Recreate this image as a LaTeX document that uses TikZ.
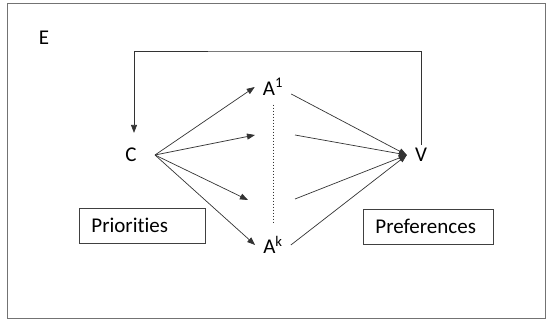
\documentclass[tikz,border=0pt]{standalone}
\usepackage{fontspec}
\setmainfont{Carlito}[Ligatures=NoCommon]
\usetikzlibrary{arrows.meta}

\begin{document}
\begin{tikzpicture}[x=1pt,y=-1pt,
font=\fontsize{21}{25}\selectfont,
lbl/.style={%
inner xsep=8pt,
inner ysep=3pt
},
tag/.style={%
anchor=west,
draw=black!75,
line width=0.8pt,
inner xsep=12pt,
align=left,
minimum height=35pt
},
arr/.style={%
draw=black!80,
line width=0.7pt,
-{Triangle[length=8pt,width=6pt]}
},
]
\useasboundingbox (0,0) rectangle (552,325);
\draw[black!55,line width=0.9pt] (7,3) rectangle (545,318);
%% Labels
\node[lbl]       (E)  at(44,38){E};
\node[lbl,inner ysep=15pt] (C) at(131,155){C};
\node[lbl]       (V)  at(421,155){V};
\node[lbl]       (A1) at(273,87){A\textsuperscript{1}};
\node[lbl]       (Ak) at(273,245){A\textsuperscript{k}};
\node[tag,text width=102pt] (prio) at(79,225.5){Priorities};
\node[tag,text width=106pt] (pref) at(363,226.5){Preferences};
%% Helper points
\coordinate (hub) at(155,155);
\coordinate (m1) at(255,135);
\coordinate (m2) at(248,200);
\coordinate (n0) at([yshift=-7pt]A1.east);
\coordinate (n1) at(295,135);
\coordinate (n2) at(295,199);
\coordinate (top) at(280,51);
%% Feedback
\draw[arr] (V.north) |- (top) -| ([xshift=3pt]C.north);
%% Choices
\foreach \t in {A1.west,m1,m2,Ak.west}{%
\draw[arr] (hub) -- (\t);
}
\foreach \s in {n0,n1,n2,Ak.east}{%
\draw[arr] (\s) -- (V.west);
}
\draw[black!80,line width=0.8pt,dash pattern=on 1.5pt off 1.5pt]
([yshift=-6pt]A1.south) -- ([yshift=10pt]Ak.north);
\end{tikzpicture}
\end{document}
